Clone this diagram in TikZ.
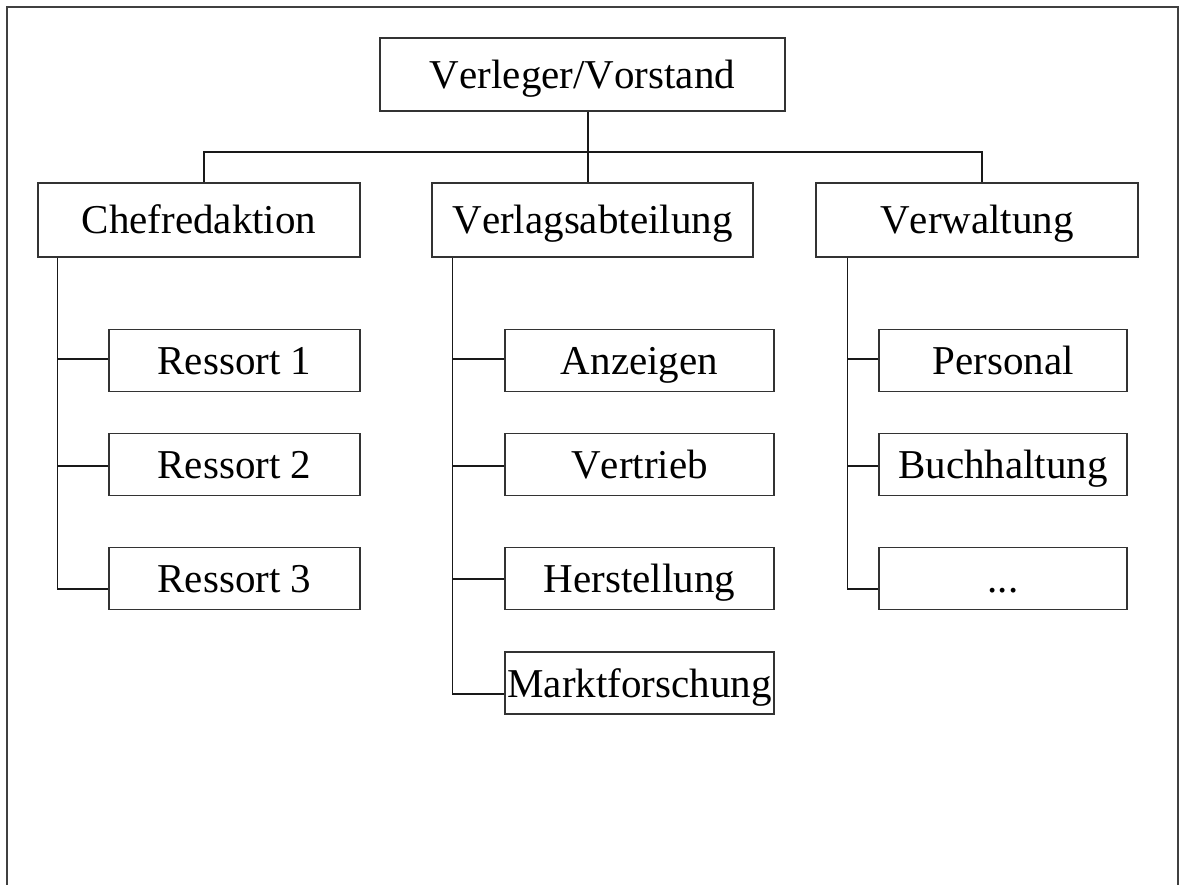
\documentclass[tikz,border=0pt]{standalone}
\usepackage{fontspec}
\setmainfont[Kerning=Off]{Liberation Serif}
\begin{document}
\begin{tikzpicture}[x=1pt,y=-1pt,
  box/.style={draw=black!80,line width=1.2pt,rectangle,inner sep=0pt,
    minimum width=#1,font=\fontsize{41}{41}\selectfont,text height=28pt,text depth=0pt},
  bigbox/.style={box=#1,minimum height=74pt},
  subbox/.style={box=#1,minimum height=62pt},
  conn/.style={draw=black!90,line width=1.1pt}]
\useasboundingbox (0,0) rectangle (1179,885);
\draw[conn,draw=black!75] (7,885) -- (7,7) -- (1178,7) -- (1178,885);
% top
\node[box=405pt,minimum height=73pt] (top) at (582.5,74.5) {Verleger/Vorstand};
% level 2
\node[bigbox=322pt] (chef) at (199,220) {Chefredaktion};
\node[bigbox=321pt] (verlag) at (592.5,220) {Verlagsabteilung};
\node[bigbox=322pt] (verw) at (977,220) {Verwaltung};
% Chefredaktion subs
\node[subbox=251pt] (r1) at (234.5,360.5) {Ressort 1};
\node[subbox=251pt] (r2) at (234.5,464.5) {Ressort 2};
\node[subbox=251pt] (r3) at (234.5,578.5) {Ressort 3};
% Verlag subs
\node[subbox=269pt] (v1) at (639.5,360.5) {Anzeigen};
\node[subbox=269pt] (v2) at (639.5,464.5) {Vertrieb};
\node[subbox=269pt] (v3) at (639.5,578.5) {Herstellung};
\node[subbox=269pt] (v4) at (639.5,683) {Marktforschung};
% Verwaltung subs
\node[subbox=248pt] (w1) at (1003,360.5) {Personal};
\node[subbox=248pt] (w2) at (1003,464.5) {Buchhaltung};
\node[subbox=248pt] (w3) at (1003,578.5) {...};
% bus
\coordinate (busL) at (204,152);
\coordinate (busR) at (982,152);
\draw[conn] ([xshift=5.5pt]top.south) -- ([xshift=-4.5pt]verlag.north);
\draw[conn] ([xshift=5pt]chef.north) -- (busL) -- (busR) -- ([xshift=5pt]verw.north);
% spines
\coordinate (cs) at ([xshift=20pt]chef.south west);
\coordinate (vs) at ([xshift=21pt]verlag.south west);
\coordinate (ws) at ([xshift=32pt]verw.south west);
\draw[conn] (cs) |- ([yshift=-10.5pt]r3.west);
\draw[conn] ([yshift=1.5pt]r1.west) -- ([yshift=1.5pt]r1.west -| cs);
\draw[conn] ([yshift=-1.5pt]r2.west) -- ([yshift=-1.5pt]r2.west -| cs);
\draw[conn] (vs) |- ([yshift=-11pt]v4.west);
\draw[conn] ([yshift=1.5pt]v1.west) -- ([yshift=1.5pt]v1.west -| vs);
\draw[conn] ([yshift=-1.5pt]v2.west) -- ([yshift=-1.5pt]v2.west -| vs);
\draw[conn] ([yshift=-0.5pt]v3.west) -- ([yshift=-0.5pt]v3.west -| vs);
\draw[conn] (ws) |- ([yshift=-10.5pt]w3.west);
\draw[conn] ([yshift=1.5pt]w1.west) -- ([yshift=1.5pt]w1.west -| ws);
\draw[conn] ([yshift=-1.5pt]w2.west) -- ([yshift=-1.5pt]w2.west -| ws);
\end{tikzpicture}
\end{document}
